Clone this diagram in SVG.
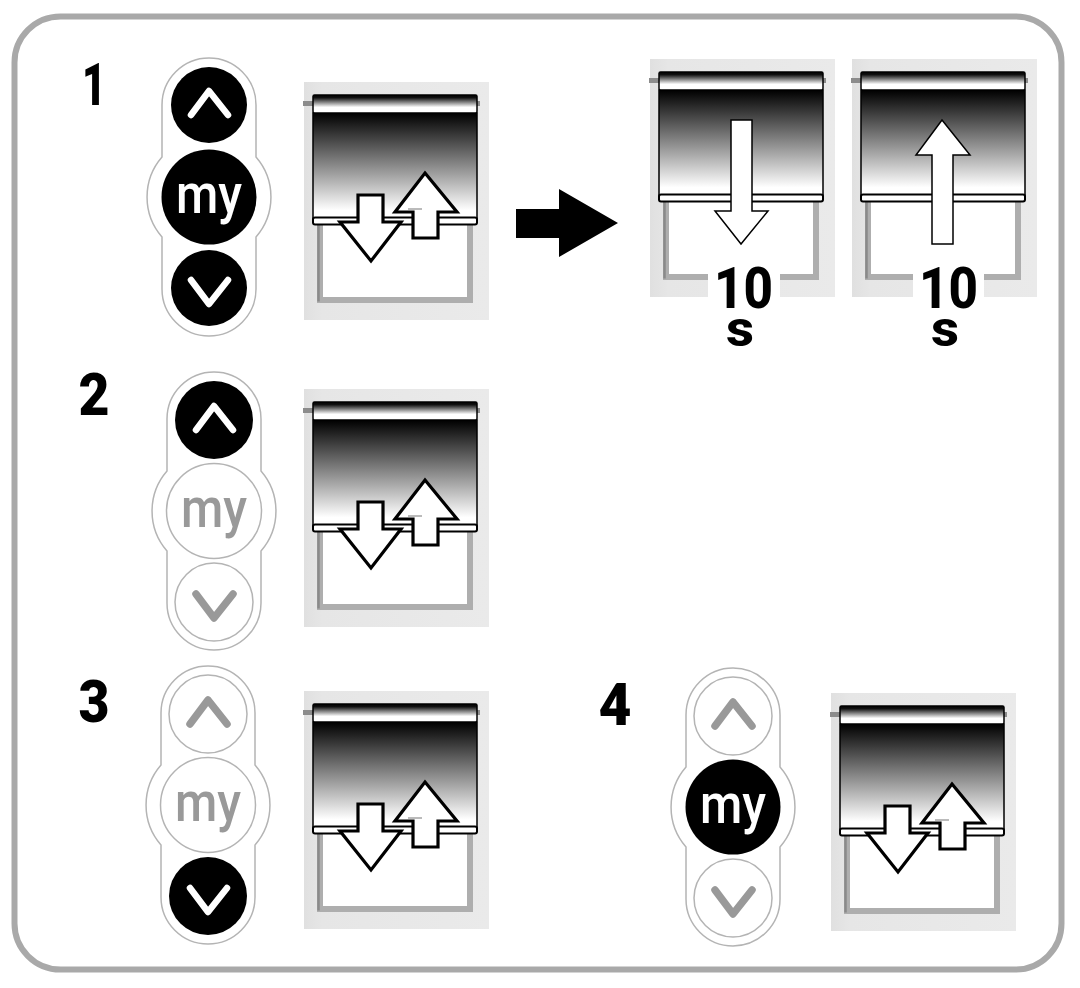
<svg xmlns="http://www.w3.org/2000/svg" xmlns:xlink="http://www.w3.org/1999/xlink" width="1080" height="988" viewBox="0 0 1080 988">
<style>
.num{font-family:"Roboto","Liberation Sans",sans-serif;font-weight:900;font-size:60px;fill:#000;text-anchor:middle}
.ten{font-family:"Roboto","Liberation Sans",sans-serif;font-weight:800;font-size:58px;fill:#000}
.sec{font-family:"Roboto","Liberation Sans",sans-serif;font-weight:800;font-size:50px;fill:#000}
.my{font-family:"Roboto","Liberation Sans",sans-serif;font-weight:500;font-size:56px}
.on{fill:#000}.off{fill:#fff;stroke:#b4b4b4;stroke-width:1.5}
.ton{fill:#fff}.toff{fill:#999}
.cOn{fill:none;stroke:#fff;stroke-width:6.500;stroke-linecap:round;stroke-linejoin:round}
.cOff{fill:none;stroke:#999;stroke-width:7.500;stroke-linecap:round;stroke-linejoin:round}
.arrow{fill:#fff;stroke:#000;stroke-width:3.200;stroke-linejoin:miter}
.arrowThin{fill:#fff;stroke:#000;stroke-width:1.500;stroke-linejoin:miter}
</style>
<defs>
<linearGradient id="shade" x1="0" y1="0" x2="0" y2="1"><stop offset="0" stop-color="#000"/><stop offset=".92" stop-color="#fff"/><stop offset="1" stop-color="#fff"/></linearGradient>
<linearGradient id="roller" x1="0" y1="0" x2="0" y2="1"><stop offset="0" stop-color="#000"/><stop offset=".15" stop-color="#111"/><stop offset=".68" stop-color="#fff"/><stop offset="1" stop-color="#fff"/></linearGradient>
<linearGradient id="wall" x1="0" y1="0" x2="1" y2="0"><stop offset="0" stop-color="#e0e0e0"/><stop offset=".1" stop-color="#e6e6e6"/><stop offset="1" stop-color="#eaeaea"/></linearGradient>
<g id="blind">
<rect x="0" y="0" width="185" height="238" fill="url(#wall)"/>
<path d="M16,140V218H166V140" fill="#fff" stroke="#aeaeae" stroke-width="6"/>
<path d="M14.500,140V219.500" fill="none" stroke="#8a8a8a" stroke-width="2.500"/>
<rect x="-1" y="19" width="177" height="5" fill="#8c8c8c"/>
<rect x="9" y="31" width="164" height="106" fill="url(#shade)" stroke="#000" stroke-width="1.500"/>
<rect x="9" y="13" width="164" height="18" rx="1.500" fill="url(#roller)" stroke="#000" stroke-width="1.500"/>
<rect x="9" y="135.500" width="164" height="7" rx="2" fill="#fff" stroke="#000" stroke-width="2"/>
</g>
<g id="arrows">
<path class="arrow" d="M54,113H79V140H97L67,179L36,140H54Z"/>
<path class="arrow" d="M121,91L153,130H134V156H109V130H91Z"/>
<rect x="104" y="126" width="14" height="2" fill="#bbb"/>
</g>
<path id="pill" d="M-47,-92A47,47 0 0 1 47,-92V-40A61,61 0 0 1 47,40V92A47,47 0 0 1 -47,92V40A61,61 0 0 1 -47,-40Z" fill="#fff" stroke="#b4b4b4" stroke-width="1.500"/>
<polyline id="up" points="-18,10 0,-14 19,10"/>
<polyline id="down" points="-18,-8 0,16 19,-8"/>
</defs>
<rect width="1080" height="988" fill="#fff"/>
<rect id="frame" x="14.500" y="16.500" width="1047" height="953" rx="46" fill="#fff" stroke="#a9a9a9" stroke-width="6"/>

<g id="step1-label"><text class="num" x="94" y="105" textLength="24" lengthAdjust="spacingAndGlyphs">1</text></g>
<g id="step2-label"><text class="num" x="94" y="415" textLength="31" lengthAdjust="spacingAndGlyphs">2</text></g>
<g id="step3-label"><text class="num" x="94" y="722" textLength="31" lengthAdjust="spacingAndGlyphs">3</text></g>
<g id="step4-label"><text class="num" x="615" y="725" textLength="33" lengthAdjust="spacingAndGlyphs">4</text></g>

<g id="remote1" transform="translate(209,197)">
<use href="#pill"/>
<circle class="on" cy="-92" r="38"/><use href="#up" class="cOn" y="-92"/>
<circle class="on" r="47.500"/><text class="my ton" x="-33" y="16" textLength="66" lengthAdjust="spacingAndGlyphs">my</text>
<circle class="on" cy="91" r="38"/><use href="#down" class="cOn" y="91"/>
</g>
<g id="remote2" transform="translate(214,511)">
<use href="#pill"/>
<circle class="on" cy="-91" r="39"/><use href="#up" class="cOn" y="-91"/>
<circle class="off" r="47.500"/><text class="my toff" x="-33" y="16" textLength="66" lengthAdjust="spacingAndGlyphs">my</text>
<circle class="off" cy="91" r="39"/><use href="#down" class="cOff" y="91"/>
</g>
<g id="remote3" transform="translate(208,805)">
<use href="#pill"/>
<circle class="off" cy="-91" r="39"/><use href="#up" class="cOff" y="-91"/>
<circle class="off" r="47.500"/><text class="my toff" x="-33" y="16" textLength="66" lengthAdjust="spacingAndGlyphs">my</text>
<circle class="on" cy="91" r="39"/><use href="#down" class="cOn" y="91"/>
</g>
<g id="remote4" transform="translate(733,807)">
<use href="#pill"/>
<circle class="off" cy="-91" r="39"/><use href="#up" class="cOff" y="-91"/>
<circle class="on" r="47.500"/><text class="my ton" x="-33" y="16" textLength="66" lengthAdjust="spacingAndGlyphs">my</text>
<circle class="off" cy="91" r="39"/><use href="#down" class="cOff" y="91"/>
</g>

<g id="blind1" transform="translate(304,82)"><use href="#blind"/><use href="#arrows"/></g>
<g id="blind2" transform="translate(304,389)"><use href="#blind"/><use href="#arrows"/></g>
<g id="blind3" transform="translate(304,691)"><use href="#blind"/><use href="#arrows"/></g>
<g id="blind4" transform="translate(831,693)"><use href="#blind"/><use href="#arrows"/></g>

<g id="blind-down" transform="translate(650,59)">
<use href="#blind"/>
<path class="arrowThin" d="M81,61H102V152H118L91,185L65,152H81Z"/>
<rect x="58" y="204" width="72" height="36" fill="#fff"/>
</g>
<g id="blind-up" transform="translate(852,59)">
<use href="#blind"/>
<path class="arrowThin" d="M90,61L118,96H101V185H80V96H64Z"/>
<rect x="61" y="204" width="71" height="36" fill="#fff"/>
</g>
<g id="time-down"><text class="ten" x="714" y="308" textLength="59" lengthAdjust="spacingAndGlyphs">10</text><text class="sec" x="726" y="346" textLength="28" lengthAdjust="spacingAndGlyphs">s</text></g>
<g id="time-up"><text class="ten" x="919" y="308" textLength="59" lengthAdjust="spacingAndGlyphs">10</text><text class="sec" x="931" y="346" textLength="28" lengthAdjust="spacingAndGlyphs">s</text></g>

<g id="connectors"><path id="big-arrow" d="M516,209H559V189L618,223L559,257V238H516Z" fill="#000"/></g>
</svg>
